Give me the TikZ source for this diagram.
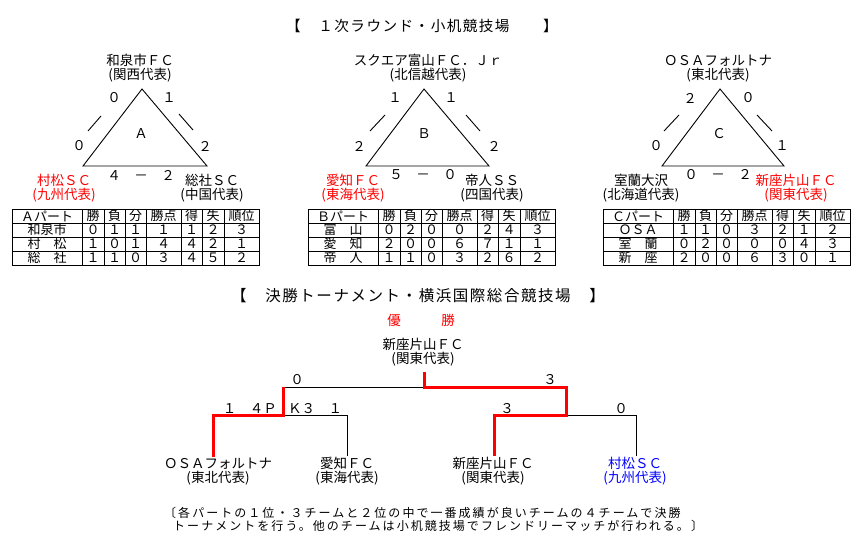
\documentclass[tikz,border=0pt]{standalone}
\usepackage{fontspec}
\setmainfont{Noto Sans CJK JP}
\newfontfamily\headfont[LetterSpace=10]{Noto Sans CJK JP}
\newfontfamily\notefont[LetterSpace=17]{Noto Sans CJK JP}
\tikzstyle{team}=[align=center, inner sep=1pt, font=\fontsize{13.5}{14}\selectfont]
\tikzstyle{goal}=[inner sep=0pt, font=\fontsize{13.5}{14}\selectfont]
\tikzstyle{cell}=[inner sep=0pt, font=\fontsize{13}{13}\selectfont]
\tikzstyle{heading}=[inner sep=0pt, font=\fontsize{15}{15}\selectfont\headfont]
\tikzstyle{note}=[align=left, inner sep=0pt, font=\fontsize{12}{12.5}\selectfont\notefont]
\tikzstyle{wire}=[line width=0.9pt]
\tikzstyle{win}=[red, line width=3pt]

\begin{document}
\begin{tikzpicture}[x=1pt, y=-1pt]
    \useasboundingbox (0,0) rectangle (864,556);
    \node[heading, font=\fontsize{14.6}{15}\selectfont\headfont] (round1) at (422,26) {【　１次ラウンド・小机競技場　　】};

    % part A
    \coordinate (Atop) at (142,89);
    \coordinate (Aleft) at (83,166);
    \coordinate (Aright) at (207,166);
    \draw[wire] (Atop) -- (Aleft) -- (Aright) -- cycle;
    \draw[wire] (88,131) -- (101,116);
    \draw[wire] (179,114) -- (193,130);
    \node[team] (izumi) at (140,68.5) {和泉市ＦＣ\\(関西代表)};
    \node[team, red] (mura1) at (64,188) {村松ＳＣ\\(九州代表)};
    \node[team] (soja) at (212,188) {総社ＳＣ\\(中国代表)};
    \node[goal] (A1) at (114,98) {０};
    \node[goal] (A2) at (169,98) {１};
    \node[goal] (A3) at (79,146) {０};
    \node[goal] (A4) at (205,146) {２};
    \node[goal] (Aname) at (141,134) {Ａ};
    \node[goal] (A5) at (141,175) {４　－　２};

    % part B
    \coordinate (Btop) at (424,89);
    \coordinate (Bleft) at (366,166);
    \coordinate (Bright) at (489,166);
    \draw[wire] (Btop) -- (Bleft) -- (Bright) -- cycle;
    \draw[wire] (370,131) -- (385,115);
    \draw[wire] (466,115) -- (480,131);
    \node[team] (toyama) at (428,68.5) {スクエア富山ＦＣ．Ｊｒ\\(北信越代表)};
    \node[team, red] (aichi1) at (353,188) {愛知ＦＣ\\(東海代表)};
    \node[team] (teijin) at (492,188) {帝人ＳＳ\\(四国代表)};
    \node[goal] (B1) at (395,98) {１};
    \node[goal] (B2) at (451,98) {１};
    \node[goal] (B3) at (359,146) {２};
    \node[goal] (B4) at (494,146) {２};
    \node[goal] (Bname) at (424,134) {Ｂ};
    \node[goal] (B5) at (423,175) {５　－　０};

    % part C
    \coordinate (Ctop) at (720,89);
    \coordinate (Cleft) at (662,166);
    \coordinate (Cright) at (784,166);
    \draw[wire] (Ctop) -- (Cleft) -- (Cright) -- cycle;
    \draw[wire] (664,131) -- (679,115);
    \draw[wire] (757,115) -- (772,131);
    \node[team] (osa1) at (718,68.5) {ＯＳＡフォルトナ\\(東北代表)};
    \node[team] (muroran) at (641,188) {室蘭大沢\\(北海道代表)};
    \node[team, red] (niiza1) at (796,188) {新座片山ＦＣ\\(関東代表)};
    \node[goal] (C1) at (690,98) {２};
    \node[goal] (C2) at (748,98) {０};
    \node[goal] (C3) at (656,146) {０};
    \node[goal] (C4) at (782,146) {１};
    \node[goal] (Cname) at (719,134) {Ｃ};
    \node[goal] (C5) at (718,175) {０　－　２};

    % tables
    \foreach \tx/\tl in {12/Ａ, 308/Ｂ, 603/Ｃ} {
        \draw[wire] (\tx,209) rectangle ++(247,56);
        \foreach \dy in {14,28,42}
            \draw[wire] (\tx,209+\dy) -- ++(247,0);
        \foreach \dx in {70,92,113,134,169,190,212}
            \draw[wire] (\tx+\dx,209) -- ++(0,56);
        \node[cell] (h\tx-1) at (\tx+35,216) {\tl パート};
        \foreach \c/\dx/\hd in {2/81/勝, 3/102.5/負, 4/123.5/分, 5/151.5/勝点, 6/179.5/得, 7/201/失, 8/229.5/順位}
            \node[cell] (h\tx-\c) at (\tx+\dx,216) {\hd};
    }
    \foreach \tx/\vr/\nm/\vw/\vl/\vd/\vp/\vg/\vs/\vj in {
        12/1/和泉市/０/１/１/１/１/２/３, 12/2/村　松/１/０/１/４/４/２/１, 12/3/総　社/１/１/０/３/４/５/２,
        308/1/富　山/０/２/０/０/２/４/３, 308/2/愛　知/２/０/０/６/７/１/１, 308/3/帝　人/１/１/０/３/２/６/２,
        603/1/ＯＳＡ/１/１/０/３/２/１/２, 603/2/室　蘭/０/２/０/０/０/４/３, 603/3/新　座/２/０/０/６/３/０/１} {
        \node[cell] (r\tx-\vr-1) at (\tx+35,216+14*\vr) {\nm};
        \node[cell] (r\tx-\vr-2) at (\tx+81,216+14*\vr) {\vw};
        \node[cell] (r\tx-\vr-3) at (\tx+102.5,216+14*\vr) {\vl};
        \node[cell] (r\tx-\vr-4) at (\tx+123.5,216+14*\vr) {\vd};
        \node[cell] (r\tx-\vr-5) at (\tx+151.5,216+14*\vr) {\vp};
        \node[cell] (r\tx-\vr-6) at (\tx+179.5,216+14*\vr) {\vg};
        \node[cell] (r\tx-\vr-7) at (\tx+201,216+14*\vr) {\vs};
        \node[cell] (r\tx-\vr-8) at (\tx+229.5,216+14*\vr) {\vj};
    }

    % final tournament
    \node[heading, font=\fontsize{15.5}{15.5}\selectfont\headfont] (final) at (418,296) {【　決勝トーナメント・横浜国際総合競技場　】};
    \node[goal, red] (yusho) at (421,320) {優　　　勝};
    \node[team, inner ysep=6pt] (champ) at (423,352) {新座片山ＦＣ\\(関東代表)};
    \node[team] (osa) at (218,471.5) {ＯＳＡフォルトナ\\(東北代表)};
    \node[team] (aichi) at (347,471.5) {愛知ＦＣ\\(東海代表)};
    \node[team] (niiza) at (493,471.5) {新座片山ＦＣ\\(関東代表)};
    \node[team, blue] (mura) at (635,471.5) {村松ＳＣ\\(九州代表)};
    \coordinate (fin) at (424,387);
    \coordinate (semiL) at (283,387);
    \coordinate (semiR) at (566,387);
    \coordinate (qL1) at (213,415);
    \coordinate (qL2) at (347,415);
    \coordinate (qR1) at (494,415);
    \coordinate (qR2) at (636,415);
    \draw[wire] (semiL) -- (fin);
    \draw[wire] (semiL |- qL1) -- (qL2) -- (qL2 |- aichi.north);
    \draw[wire] (semiR |- qR1) -- (qR2) -- (qR2 |- mura.north);
    \draw[win] (qL1 |- osa.north) -- (qL1) -- (semiL |- qL1) -- (semiL);
    \draw[win] (fin |- champ.south) -- (fin) -- (semiR) -- (semiR |- qR1) -- (qR1) -- (qR1 |- niiza.north);
    \node[goal] (sfL) at (297,380) {０};
    \node[goal] (sfR) at (550,380) {３};
    \node[goal, anchor=east] (qLa) at (277,409) {１　４Ｐ};
    \node[goal, anchor=west] (qLb) at (288,409) {Ｋ３　１};
    \node[goal] (qRa) at (507,409) {３};
    \node[goal] (qRb) at (621,409) {０};

    \node[note, anchor=north west] (rule) at (164,507) {〔各パートの１位・３チームと２位の中で一番成績が良いチームの４チームで決勝\\\hspace*{9pt}トーナメントを行う。他のチームは小机競技場でフレンドリーマッチが行われる。〕};
\end{tikzpicture}
\end{document}
